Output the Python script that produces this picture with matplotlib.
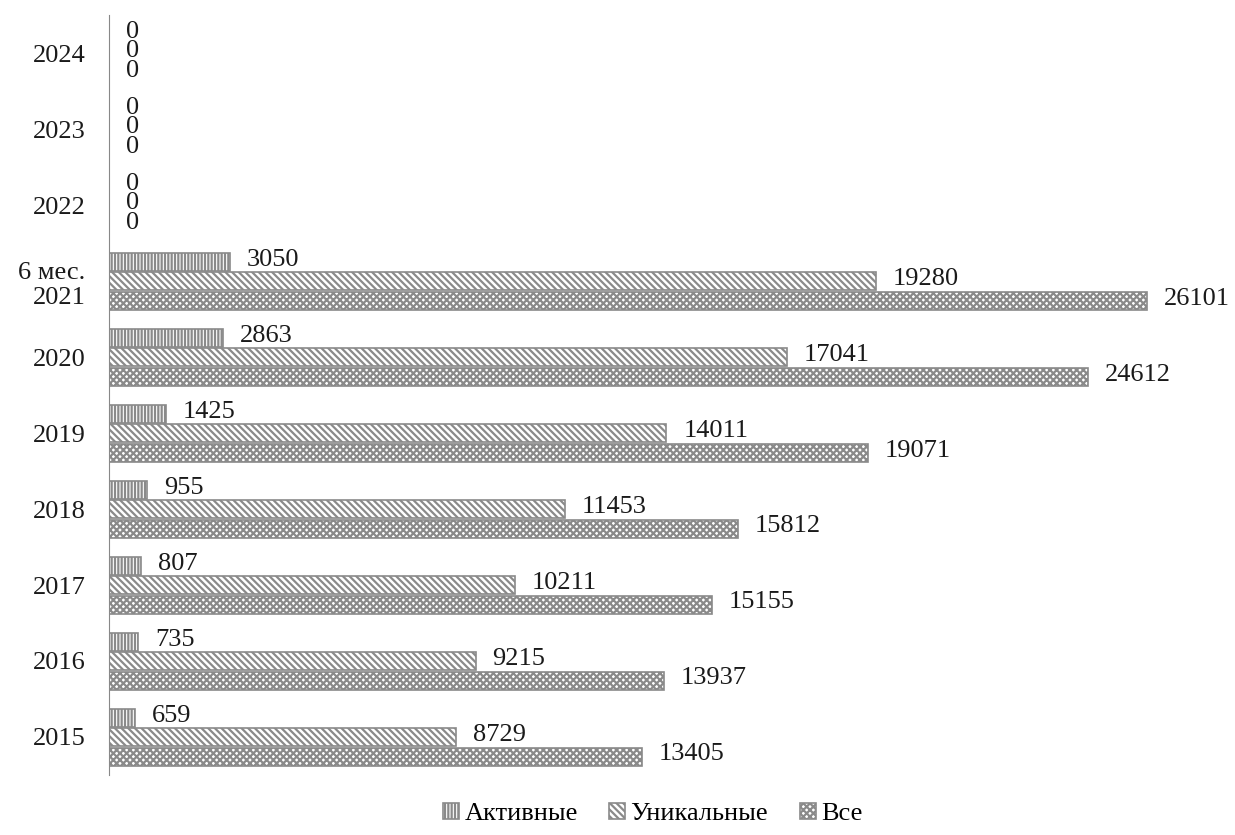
import numpy as np
import matplotlib.pyplot as plt

plt.rcParams['font.family'] = ['Liberation Serif', 'DejaVu Serif']
plt.rcParams['hatch.linewidth'] = 1.6
plt.rcParams['hatch.color'] = '#7a7a7a'

years = ['2015', '2016', '2017', '2018', '2019', '2020', '6 мес.\n2021', '2022', '2023', '2024']
active = [659, 735, 807, 955, 1425, 2863, 3050, 0, 0, 0]
unique = [8729, 9215, 10211, 11453, 14011, 17041, 19280, 0, 0, 0]
total = [13405, 13937, 15155, 15812, 19071, 24612, 26101, 0, 0, 0]

series = [
    ('Активные', active, '|||||', 0.25),
    ('Уникальные', unique, '\\\\\\\\\\', 0.0),
    ('Все', total, 'xxxxx', -0.26),
]

fig = plt.figure(figsize=(12.35, 8.35), dpi=100)
ax = fig.add_axes([0.0883, 0.0719, 0.902, 0.910])

y = np.arange(len(years))
h = 0.235
for name, vals, hatch, off in series:
    ax.barh(y + off, vals, height=h, color='white', edgecolor='#8a8a8a',
            hatch=hatch, linewidth=1.2, label=name)
    for yy, v in zip(y + off, vals):
        ax.text(v + 420, yy + 0.03, str(v), va='center', ha='left', fontsize=19, color='#1a1a1a')

ax.set_xlim(0, 28000)
ax.set_ylim(-0.5, len(years) - 0.5)
ax.set_yticks(y)
ax.set_yticklabels(years, fontsize=19, color='#1a1a1a')
ax.tick_params(axis='y', length=0, pad=17)
ax.set_xticks([])
for side in ['top', 'right', 'bottom']:
    ax.spines[side].set_visible(False)
ax.spines['left'].set_color('#888888')

ax.legend(loc='upper center', bbox_to_anchor=(0.488, -0.005), ncol=3, frameon=False,
          fontsize=19, handlelength=0.6, handleheight=0.6, handletextpad=0.2,
          columnspacing=1.2)

fig.savefig('out.png', dpi=100)
